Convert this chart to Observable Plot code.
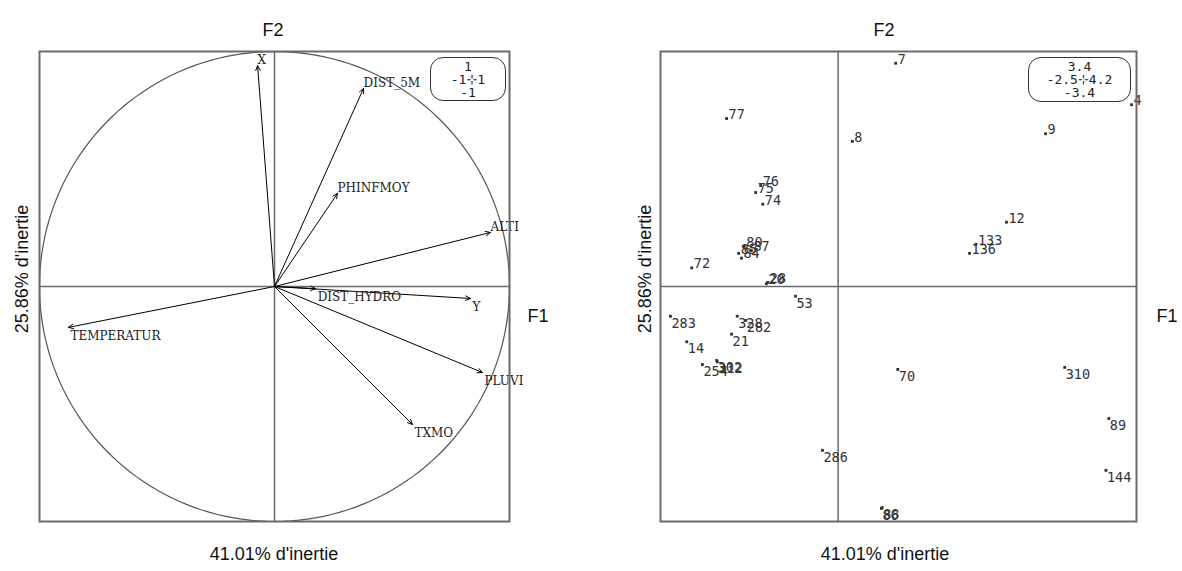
<!DOCTYPE html>
<html>
<head>
<meta charset="utf-8">
<script src="https://cdn.jsdelivr.net/npm/d3@7"></script>
<script src="https://cdn.jsdelivr.net/npm/@observablehq/plot@0.6"></script>
<style>
  html, body { margin: 0; padding: 0; background: #fff; }
  #wrap { position: relative; width: 1182px; height: 571px; overflow: hidden; font-family: "Liberation Sans", Arial, sans-serif; }
  #wrap svg { position: absolute; top: 0; }
  .title { position: absolute; font-size: 18px; color: #111; white-space: nowrap; line-height: 1; }
  .vtitle { position: absolute; font-size: 18px; color: #111; white-space: nowrap; line-height: 1; transform: translate(-50%, -50%) rotate(-90deg); }
  .htitle { transform: translate(-50%, -50%); }
  .legend { position: absolute; border: 1px solid #333; border-radius: 13px; font-family: "DejaVu Sans Mono", monospace; font-size: 13px; line-height: 13px; text-align: center; color: #222; padding-top: 2px; box-sizing: border-box; }
</style>
</head>
<body>
<div id="wrap"></div>
<script>
// ---------- data ----------
// Left panel: correlation circle (variables)
const varNames = ["X", "DIST_5M", "PHINFMOY", "ALTI", "DIST_HYDRO", "Y", "PLUVI", "TXMO", "TEMPERATUR"];
const varF1    = [-0.072, 0.379, 0.268, 0.919, 0.175, 0.834, 0.885, 0.587, -0.877];
const varF2    = [ 0.940, 0.843, 0.396, 0.230, -0.009, -0.051, -0.366, -0.587, -0.174];

// Right panel: individuals
const obsNames = ["7", "4", "9", "8", "77", "76", "75", "74", "12", "133", "136", "72", "80", "87", "85", "84", "20", "28", "53", "283", "328", "282", "21", "14", "254", "302", "312", "70", "310", "89", "144", "286", "86", "88"];
const obsF1    = [0.81, 4.13, 2.92, 0.20, -1.57, -1.09, -1.16, -1.06, 2.37, 1.94, 1.85, -2.06, -1.32, -1.22, -1.40, -1.36, -1.01, -0.99, -0.60, -2.36, -1.42, -1.30, -1.50, -2.13, -1.91, -1.71, -1.70, 0.84, 3.19, 3.81, 3.77, -0.22, 0.61, 0.62];
const obsF2    = [3.23, 2.63, 2.21, 2.10, 2.43, 1.46, 1.36, 1.19, 0.93, 0.61, 0.48, 0.27, 0.58, 0.52, 0.48, 0.41, 0.04, 0.06, -0.14, -0.43, -0.43, -0.49, -0.69, -0.80, -1.13, -1.07, -1.09, -1.20, -1.17, -1.91, -2.66, -2.37, -3.21, -3.20];

// Scale ranges (also shown in the corner boxes)
const leftXDomain  = [-1, 1];
const leftYDomain  = [-1, 1];
const rightXDomain = [-2.5, 4.2];
const rightYDomain = [-3.4, 3.4];
const leftXTicks  = ["-1", "1"];
const leftYTicks  = ["-1", "1"];
const rightXTicks = ["-2.5", "4.2"];
const rightYTicks = ["-3.4", "3.4"];

// Axis titles
const axisX = "F1", axisY = "F2";
const inertiaX = "41.01% d'inertie", inertiaY = "25.86% d'inertie";

// ---------- build ----------
const vars = varNames.map((n, i) => ({name: n, x: varF1[i], y: varF2[i]}));
const obs  = obsNames.map((n, i) => ({name: n, x: obsF1[i], y: obsF2[i]}));
const circle = d3.range(0, 361, 2).map(a => ({x: Math.cos(a * Math.PI / 180), y: Math.sin(a * Math.PI / 180)}));

const wrap = document.getElementById("wrap");
const gray = "#6a6a6a";

const left = Plot.plot({
  width: 590, height: 571,
  marginLeft: 39, marginRight: 81, marginTop: 51, marginBottom: 50,
  x: {domain: leftXDomain, axis: null},
  y: {domain: leftYDomain, axis: null},
  marks: [
    Plot.ruleX([0], {stroke: gray, strokeWidth: 1.5}),
    Plot.ruleY([0], {stroke: gray, strokeWidth: 1.5}),
    Plot.line(circle, {x: "x", y: "y", stroke: "#555", strokeWidth: 1.2}),
    Plot.arrow(vars, {x1: 0, y1: 0, x2: "x", y2: "y", stroke: "#000", strokeWidth: 1, headLength: 8, headAngle: 50, bend: 0}),
    Plot.text(vars.filter(d => d.y >= 0), {x: "x", y: "y", text: "name", textAnchor: "start", dx: 0, dy: -5, fontFamily: "DejaVu Serif, serif", fontSize: 12, fill: "#222"}),
    Plot.text(vars.filter(d => d.y < 0), {x: "x", y: "y", text: "name", textAnchor: "start", dx: 2, dy: 9, fontFamily: "DejaVu Serif, serif", fontSize: 12, fill: "#222"}),
    Plot.frame({stroke: gray, strokeWidth: 2})
  ]
});
left.style.left = "0px";
wrap.appendChild(left);

const right = Plot.plot({
  width: 592, height: 571,
  marginLeft: 70, marginRight: 46, marginTop: 51, marginBottom: 50,
  x: {domain: rightXDomain, axis: null},
  y: {domain: rightYDomain, axis: null},
  marks: [
    Plot.ruleX([0], {stroke: gray, strokeWidth: 1.5}),
    Plot.ruleY([0], {stroke: gray, strokeWidth: 1.5}),
    Plot.dot(obs, {x: "x", y: "y", symbol: "square", r: 1.6, fill: "#333", stroke: "none"}),
    Plot.text(obs.filter(d => d.y >= 0), {x: "x", y: "y", text: "name", textAnchor: "start", dx: 2, dy: -4, fontFamily: "DejaVu Sans Mono, monospace", fontSize: 13.5, fill: "#333"}),
    Plot.text(obs.filter(d => d.y < 0), {x: "x", y: "y", text: "name", textAnchor: "start", dx: 1, dy: 7, fontFamily: "DejaVu Sans Mono, monospace", fontSize: 13.5, fill: "#333"}),
    Plot.frame({stroke: gray, strokeWidth: 2})
  ]
});
right.style.left = "590px";
wrap.appendChild(right);

function addDiv(cls, text, x, y) {
  const d = document.createElement("div");
  d.className = cls;
  d.textContent = text;
  d.style.left = x + "px";
  d.style.top = y + "px";
  wrap.appendChild(d);
  return d;
}
// titles
addDiv("title htitle", axisY, 273, 30);
addDiv("title htitle", axisY, 884, 30);
addDiv("title htitle", axisX, 538, 316);
addDiv("title htitle", axisX, 1167, 316);
addDiv("title htitle", inertiaX, 274, 554);
addDiv("title htitle", inertiaX, 885, 554);
addDiv("vtitle", inertiaY, 22, 269);
addDiv("vtitle", inertiaY, 645, 269);

// corner range boxes
function legendBox(x, y, w, h, xt, yt) {
  const d = document.createElement("div");
  d.className = "legend";
  d.style.left = x + "px"; d.style.top = y + "px";
  d.style.width = w + "px"; d.style.height = h + "px";
  d.innerHTML = `<div>${yt[1]}</div><div>${xt[0]}<span style="font-family:'DejaVu Sans'">⊹</span>${xt[1]}</div><div>${yt[0]}</div>`;
  wrap.appendChild(d);
}
legendBox(430, 57, 76, 44, leftXTicks, leftYTicks);
legendBox(1028, 57, 103, 45, rightXTicks, rightYTicks);
</script>
</body>
</html>
